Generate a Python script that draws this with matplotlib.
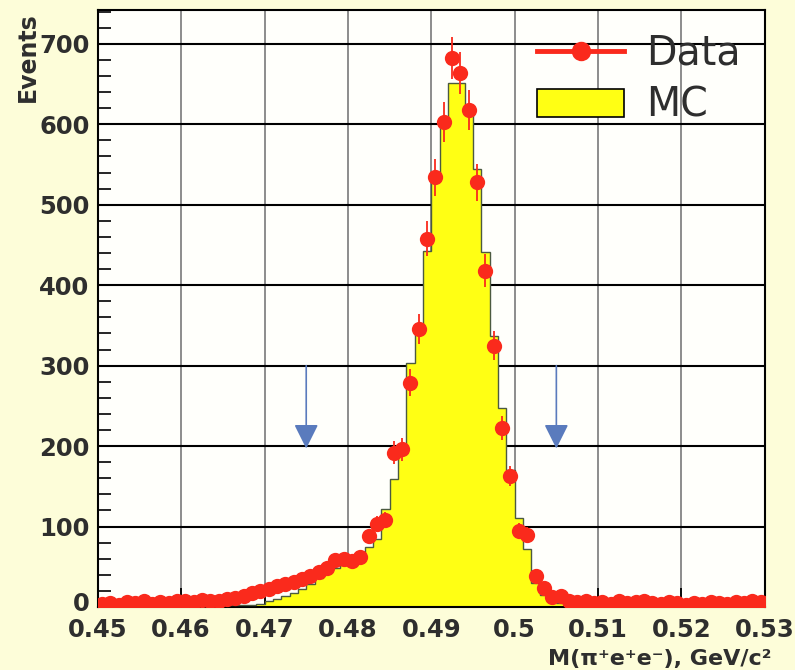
import numpy as np
import matplotlib
matplotlib.use('Agg')
import matplotlib.pyplot as plt
from matplotlib.lines import Line2D
from matplotlib.patches import Patch
from matplotlib.transforms import ScaledTranslation

# binning of the mass spectrum (GeV/c^2)
m_lo, m_hi, n_bins = 0.45, 0.53, 80

# measured events per bin
data_counts = [
    4, 5, 3, 6, 5, 7, 4, 6, 5, 8,
    7, 6, 9, 8, 7, 10, 11, 14, 17, 20,
    23, 26, 28, 31, 35, 39, 44, 49, 58, 60,
    57, 62, 88, 103, 108, 192, 196, 279, 346, 458,
    534, 603, 682, 664, 618, 528, 418, 325, 222, 163,
    95, 90, 39, 24, 12, 14, 8, 6, 7, 5,
    6, 4, 7, 5, 6, 8, 5, 4, 6, 5,
    3, 5, 4, 6, 5, 4, 6, 5, 7, 6,
]

# simulated (MC) events per bin
mc_counts = [
    1, 1, 1, 1, 1, 1, 1, 1, 1, 1,
    1, 1, 1, 1, 1, 2, 2, 3, 3, 4,
    7, 10, 14, 18, 23, 29, 36, 43, 48, 52,
    60, 68, 75, 85, 122, 159, 194, 303, 350, 443,
    540, 605, 651, 651, 621, 545, 441, 337, 247, 170,
    111, 72, 30, 15, 8, 5, 3, 2, 2, 1,
    1, 1, 1, 1, 1, 1, 1, 1, 1, 1,
    1, 1, 1, 1, 1, 1, 1, 1, 1, 1,
]

cut_low, cut_high = 0.475, 0.505
arrow_top, arrow_tip = 300, 197

x_ticks = [0.45, 0.46, 0.47, 0.48, 0.49, 0.50, 0.51, 0.52, 0.53]
x_tick_labels = ['0.45', '0.46', '0.47', '0.48', '0.49', '0.5', '0.51', '0.52', '0.53']
y_ticks = [0, 100, 200, 300, 400, 500, 600, 700]

edges = np.linspace(m_lo, m_hi, n_bins + 1)
centers = 0.5 * (edges[:-1] + edges[1:])
data_counts = np.array(data_counts)
mc_counts = np.array(mc_counts)

bg = '#fdfdd9'
txt = '#2e2e2e'
red = '#fa2a1c'

fig = plt.figure(figsize=(7.95, 6.7), dpi=100, facecolor=bg)
ax = fig.add_axes([0.123, 0.094, 0.839, 0.891])
ax.set_facecolor('#fffffb')

# MC histogram
ax.stairs(mc_counts, edges, fill=True, color='#ffff14', zorder=2)
ax.stairs(mc_counts, edges, color='#4c5a40', lw=1.0, zorder=3)

# data points with errors
ax.errorbar(centers, data_counts, yerr=np.sqrt(data_counts), fmt='o', color=red,
            ms=11, mew=0, elinewidth=1.3, capsize=0, zorder=5)

# cut arrows
for xc in (cut_low, cut_high):
    ax.annotate('', xy=(xc, arrow_tip), xytext=(xc, arrow_top),
                arrowprops=dict(arrowstyle='-|>,head_length=0.6,head_width=0.3',
                                color='#5a7bbd', lw=1.2, mutation_scale=25,
                                shrinkA=0, shrinkB=0), zorder=4)

ax.set_xlim(m_lo, m_hi)
ax.set_ylim(0, 742)
ax.set_xticks(x_ticks)
ax.set_xticklabels(x_tick_labels)
ax.set_yticks(y_ticks)
ax.set_yticks(np.arange(0, 742, 20), minor=True)

ax.yaxis.grid(True, color='black', lw=1.5, zorder=1)
ax.xaxis.grid(True, color='#8c8c8c', lw=1.4, zorder=1)
ax.set_axisbelow(True)

ax.tick_params(axis='both', which='major', direction='in', length=14, width=1.3,
               color='black', labelsize=17.5, labelcolor=txt, pad=6)
ax.tick_params(axis='x', which='major', pad=8)
ax.tick_params(axis='y', which='minor', direction='in', length=9, width=1.2)
for lab in ax.get_xticklabels() + ax.get_yticklabels():
    lab.set_fontweight('bold')
    lab.set_family('DejaVu Sans')
for sp in ax.spines.values():
    sp.set_linewidth(1.5)
    sp.set_color('black')

# lift the "0" label a little so it clears the x tick labels
zero_lab = ax.get_yticklabels()[0]
zero_lab.set_transform(zero_lab.get_transform() + ScaledTranslation(0, 4 / 72, fig.dpi_scale_trans))

fig.text(0.035, 0.982, 'Events', rotation=90, ha='center', va='top',
         fontsize=17, fontweight='bold', color=txt, family='DejaVu Sans')
fig.text(0.970, 0.002, 'M(π⁺e⁺e⁻), GeV/c²', ha='right', va='bottom',
         fontsize=16, fontweight='bold', color=txt, family=['DejaVu Sans'])

handles = [Line2D([], [], color=red, lw=3.5, marker='o', ms=14, mew=0),
           Patch(facecolor='#ffff14', edgecolor='black', lw=1.2)]
leg = ax.legend(handles, ['Data', 'MC'], loc='upper left', bbox_to_anchor=(0.623, 1.0),
                frameon=False, fontsize=28.5, handlelength=2.2, handletextpad=0.55,
                labelspacing=0.3, borderaxespad=0.2)
for t in leg.get_texts():
    t.set_color(txt)

fig.savefig('out.png', dpi=100, facecolor=bg)
